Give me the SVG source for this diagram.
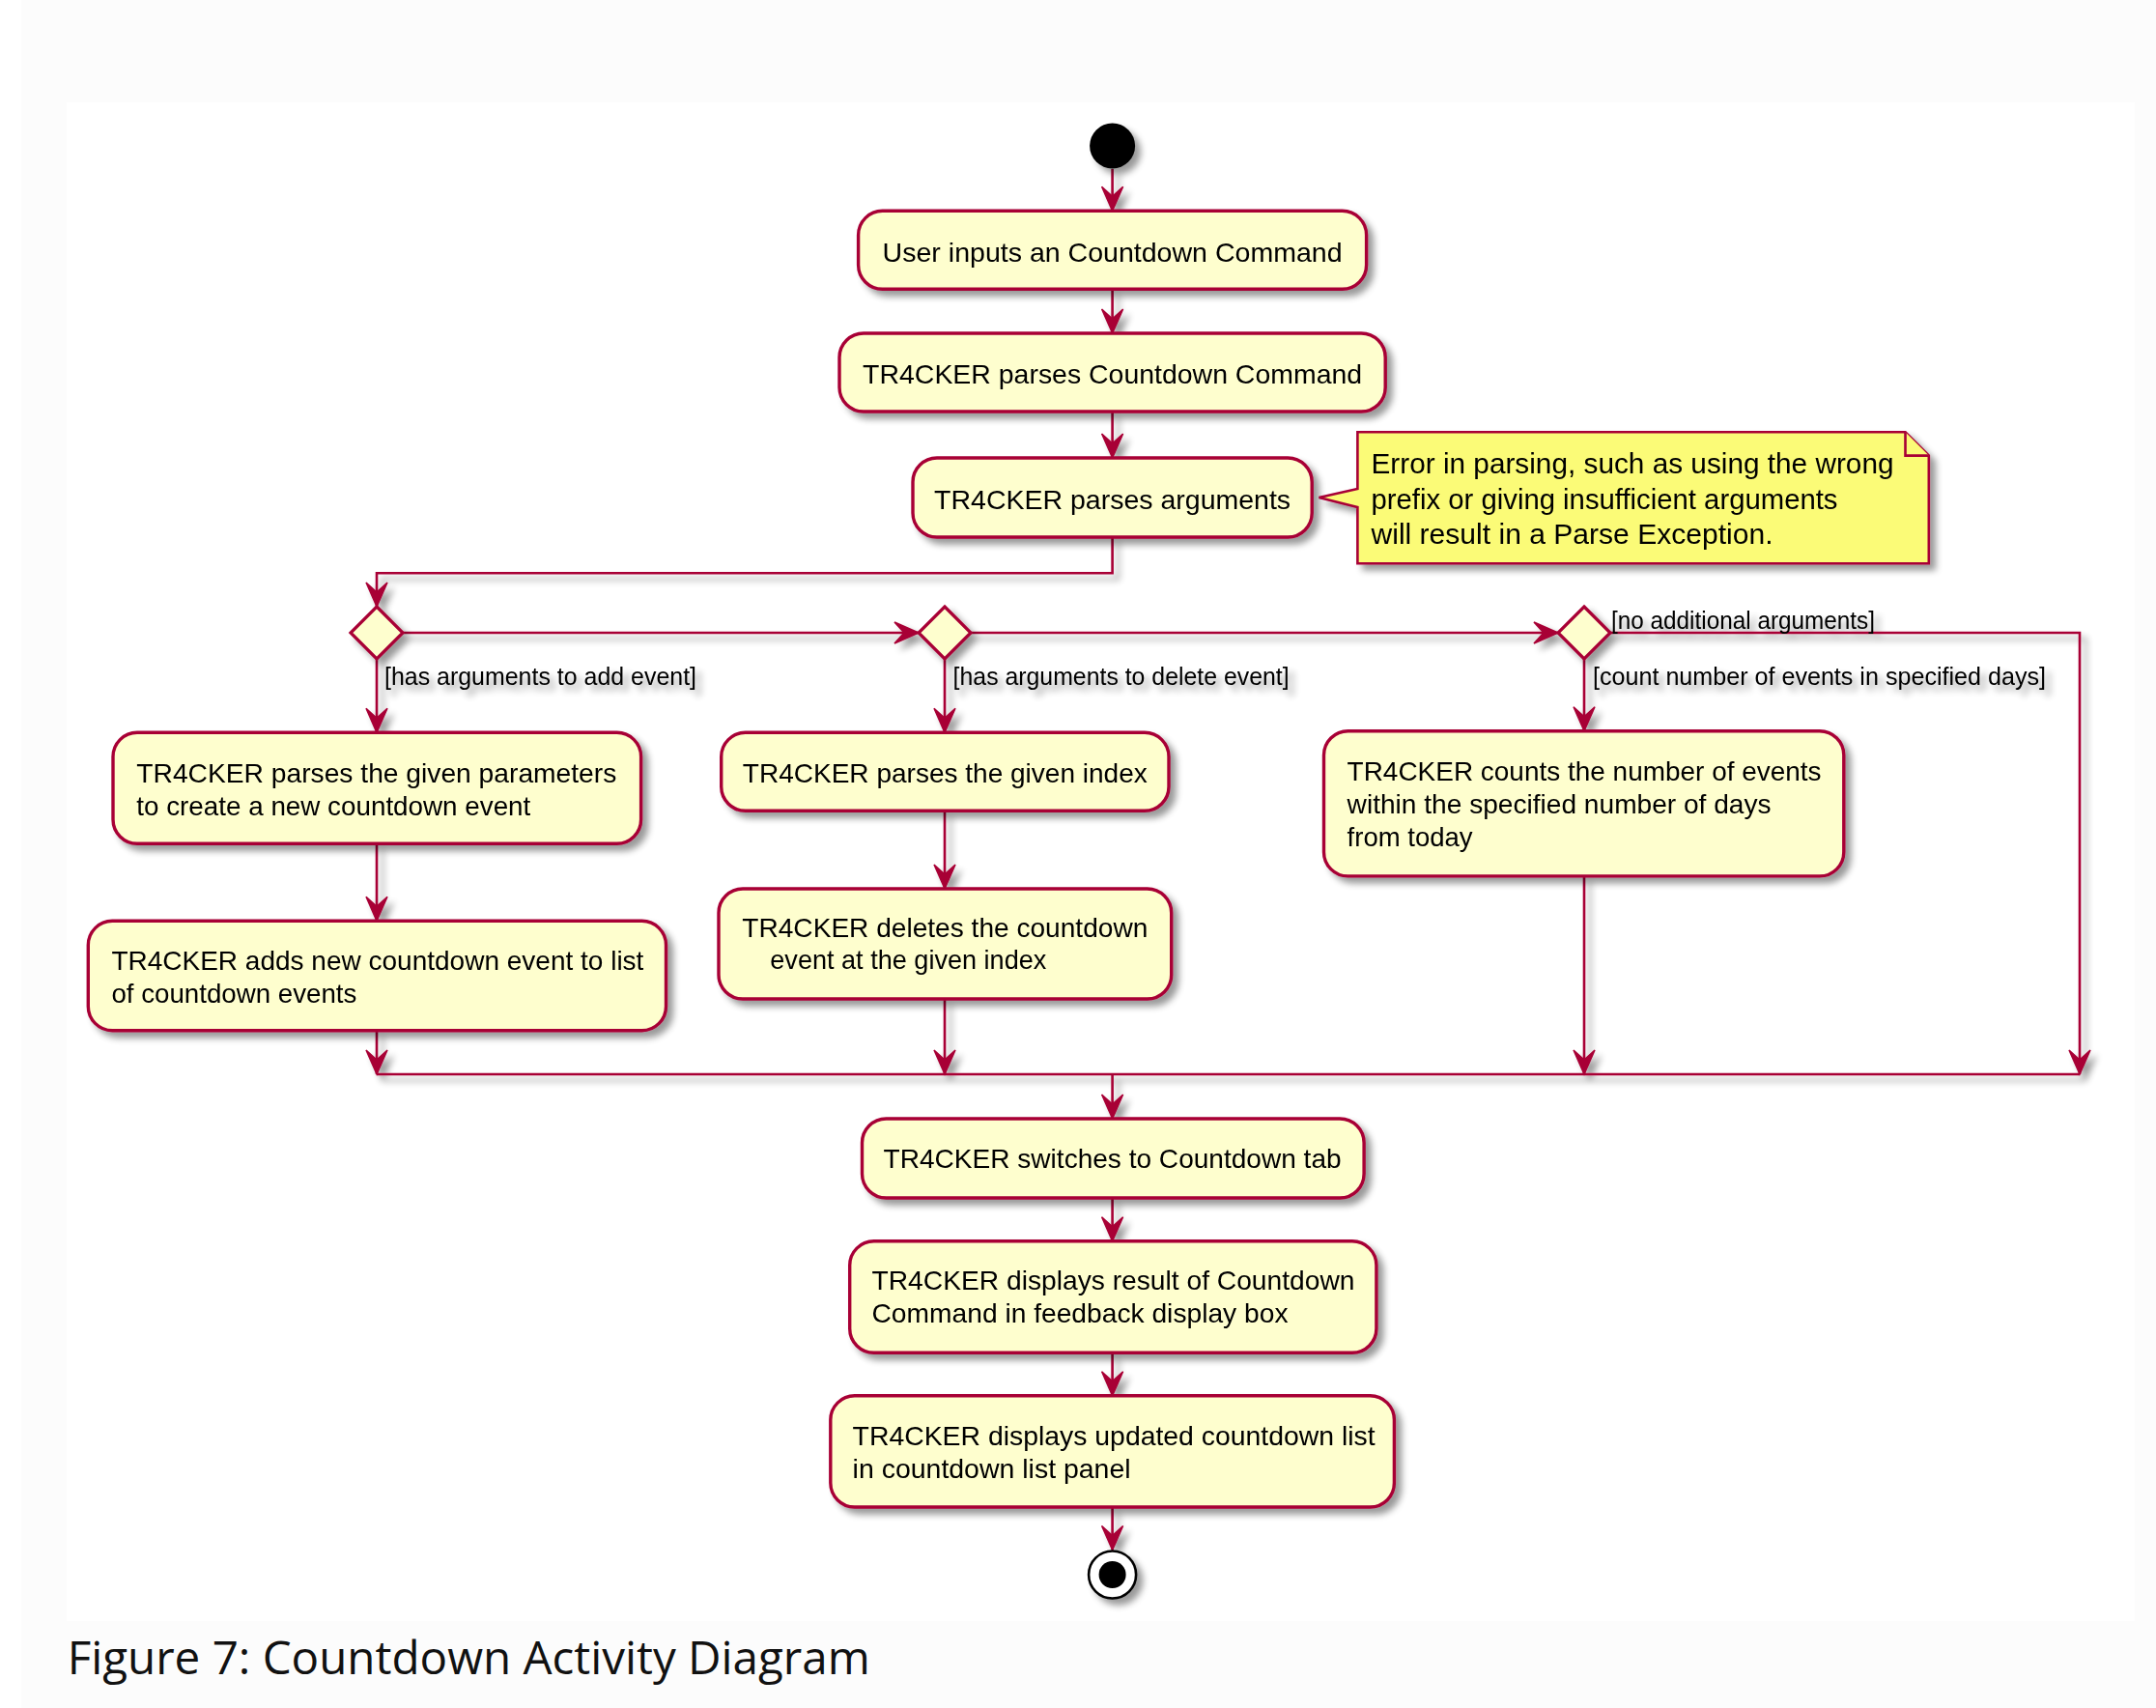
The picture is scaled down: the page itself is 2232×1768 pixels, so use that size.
<svg xmlns="http://www.w3.org/2000/svg" width="2232" height="1768" viewBox="0 0 2232 1768">
<style>
.box{fill:#FEFECE;stroke:#A80036;stroke-width:3.4}
.dia{fill:#FEFECE;stroke:#A80036;stroke-width:3.2}
.note{fill:#FBFB77;stroke:#A80036;stroke-width:2.6}
.ln{fill:none;stroke:#A80036;stroke-width:2.6}
.t{font-family:"Liberation Sans",Arial,sans-serif;font-size:28.5px;fill:#000}
.tn{font-family:"Liberation Sans",Arial,sans-serif;font-size:30px;fill:#000}
.lb{font-family:"Liberation Sans",Arial,sans-serif;font-size:25px;fill:#000}
.cap{font-family:"Open Sans","Noto Sans","Liberation Sans",sans-serif;font-size:47px;fill:#111}
</style>
<defs>
<filter id="sh" filterUnits="userSpaceOnUse" x="0" y="0" width="2232" height="1768">
<feGaussianBlur in="SourceAlpha" stdDeviation="3.5"/>
<feOffset dx="6" dy="6" result="o"/>
<feComponentTransfer><feFuncA type="linear" slope="0.4"/></feComponentTransfer>
<feMerge><feMergeNode/><feMergeNode in="SourceGraphic"/></feMerge>
</filter>
<marker id="ah" markerUnits="userSpaceOnUse" orient="auto" overflow="visible" markerWidth="1" markerHeight="1" refX="0" refY="0">
<path d="M0,0 L-25,-11 L-15,0 L-25,11 Z" fill="#A80036" stroke="#A80036" stroke-width="1.5" stroke-linejoin="miter"/>
</marker>
</defs>

<rect x="0" y="0" width="2232" height="1768" fill="#ffffff"/>
<rect x="22" y="0" width="2210" height="1768" fill="#fcfcfc"/>
<rect x="69" y="106" width="2141" height="1572" fill="#ffffff"/>

<g id="connectors" filter="url(#sh)">
<path class="ln" d="M1151.6,175 V218.3" marker-end="url(#ah)"/>
<path class="ln" d="M1151.6,299.3 V345" marker-end="url(#ah)"/>
<path class="ln" d="M1151.6,426 V474" marker-end="url(#ah)"/>
<path class="ln" d="M1151.6,556 V593.3 H390 V628" marker-end="url(#ah)"/>
<path class="ln" d="M417,655 H951" marker-end="url(#ah)"/>
<path class="ln" d="M1005,655 H1613" marker-end="url(#ah)"/>
<path class="ln" d="M1667,655 H2153 V1112" marker-end="url(#ah)"/>
<path class="ln" d="M390,682 V758.3" marker-end="url(#ah)"/>
<path class="ln" d="M390,873.3 V953.3" marker-end="url(#ah)"/>
<path class="ln" d="M390,1066.7 V1112" marker-end="url(#ah)"/>
<path class="ln" d="M978,682 V758.3" marker-end="url(#ah)"/>
<path class="ln" d="M978,839.3 V920" marker-end="url(#ah)"/>
<path class="ln" d="M978,1034 V1112" marker-end="url(#ah)"/>
<path class="ln" d="M1640,682 V756.7" marker-end="url(#ah)"/>
<path class="ln" d="M1640,907 V1112" marker-end="url(#ah)"/>
<path class="ln" d="M390,1112 H2153"/>
<path class="ln" d="M1151.6,1112 V1158" marker-end="url(#ah)"/>
<path class="ln" d="M1151.6,1240 V1284.8" marker-end="url(#ah)"/>
<path class="ln" d="M1151.6,1400.3 V1444.8" marker-end="url(#ah)"/>
<path class="ln" d="M1151.6,1560 V1604.5" marker-end="url(#ah)"/>
<text class="lb" x="398" y="709" textLength="323" lengthAdjust="spacingAndGlyphs">[has arguments to add event]</text>
<text class="lb" x="986.6" y="708.5" textLength="348" lengthAdjust="spacingAndGlyphs">[has arguments to delete event]</text>
<text class="lb" x="1649" y="709" textLength="469" lengthAdjust="spacingAndGlyphs">[count number of events in specified days]</text>
<text class="lb" x="1668" y="650.5" textLength="273" lengthAdjust="spacingAndGlyphs">[no additional arguments]</text>
</g>

<g id="start" filter="url(#sh)">
<circle cx="1151.6" cy="151" r="23.5" fill="#000"/>
</g>

<g id="n1" filter="url(#sh)">
<rect class="box" x="888.6" y="218.3" width="526" height="81" rx="25" ry="25"/>
<text class="t" x="1151.6" y="271" text-anchor="middle" textLength="476" lengthAdjust="spacingAndGlyphs">User inputs an Countdown Command</text>
</g>

<g id="n2" filter="url(#sh)">
<rect class="box" x="869" y="345" width="565.2" height="81" rx="25" ry="25"/>
<text class="t" x="1151.6" y="396.5" text-anchor="middle" textLength="517" lengthAdjust="spacingAndGlyphs">TR4CKER parses Countdown Command</text>
</g>

<g id="n3" filter="url(#sh)">
<rect class="box" x="945" y="474" width="413.2" height="82" rx="25" ry="25"/>
<text class="t" x="1151.6" y="526.7" text-anchor="middle" textLength="369" lengthAdjust="spacingAndGlyphs">TR4CKER parses arguments</text>
</g>

<g id="note" filter="url(#sh)">
<path class="note" d="M1405.4,447.3 L1972.5,447.3 L1996.8,471.6 L1996.8,583.3 L1405.4,583.3 L1405.4,525 L1365.5,515 L1405.4,506 Z"/>
<path class="note" d="M1972.5,447.3 L1972.5,471.6 L1996.8,471.6"/>
<text class="tn" x="1419.5" y="490" textLength="541" lengthAdjust="spacingAndGlyphs">Error in parsing, such as using the wrong</text>
<text class="tn" x="1419.5" y="526.7" textLength="483" lengthAdjust="spacingAndGlyphs">prefix or giving insufficient arguments</text>
<text class="tn" x="1419.5" y="563.3" textLength="416" lengthAdjust="spacingAndGlyphs">will result in a Parse Exception.</text>
</g>

<g id="d1" filter="url(#sh)">
<polygon class="dia" points="390,628 417,655 390,682 363,655"/>
</g>
<g id="d2" filter="url(#sh)">
<polygon class="dia" points="978,628 1005,655 978,682 951,655"/>
</g>
<g id="d3" filter="url(#sh)">
<polygon class="dia" points="1640,628 1667,655 1640,682 1613,655"/>
</g>

<g id="n4" filter="url(#sh)">
<rect class="box" x="117" y="758.3" width="546.6" height="115" rx="25" ry="25"/>
<text class="t" x="141.3" y="810" textLength="497" lengthAdjust="spacingAndGlyphs">TR4CKER parses the given parameters</text>
<text class="t" x="141.3" y="844" textLength="408" lengthAdjust="spacingAndGlyphs">to create a new countdown event</text>
</g>

<g id="n5" filter="url(#sh)">
<rect class="box" x="91.3" y="953.3" width="598.2" height="113.4" rx="25" ry="25"/>
<text class="t" x="115.4" y="1004" textLength="551" lengthAdjust="spacingAndGlyphs">TR4CKER adds new countdown event to list</text>
<text class="t" x="115.4" y="1038.3" textLength="254" lengthAdjust="spacingAndGlyphs">of countdown events</text>
</g>

<g id="n6" filter="url(#sh)">
<rect class="box" x="746.7" y="758.3" width="463.3" height="81" rx="25" ry="25"/>
<text class="t" x="978.3" y="810" text-anchor="middle" textLength="419" lengthAdjust="spacingAndGlyphs">TR4CKER parses the given index</text>
</g>

<g id="n7" filter="url(#sh)">
<rect class="box" x="744" y="920" width="468.7" height="114" rx="25" ry="25"/>
<text class="t" x="768.3" y="970" textLength="420" lengthAdjust="spacingAndGlyphs">TR4CKER deletes the countdown</text>
<text class="t" x="797.3" y="1003.3" textLength="286" lengthAdjust="spacingAndGlyphs">event at the given index</text>
</g>

<g id="n8" filter="url(#sh)">
<rect class="box" x="1370.5" y="756.7" width="538.3" height="150.2" rx="25" ry="25"/>
<text class="t" x="1394.6" y="808.4" textLength="491" lengthAdjust="spacingAndGlyphs">TR4CKER counts the number of events</text>
<text class="t" x="1394.6" y="842.2" textLength="439" lengthAdjust="spacingAndGlyphs">within the specified number of days</text>
<text class="t" x="1394.6" y="876" textLength="130" lengthAdjust="spacingAndGlyphs">from today</text>
</g>

<g id="n9" filter="url(#sh)">
<rect class="box" x="892.5" y="1158" width="519.6" height="82" rx="25" ry="25"/>
<text class="t" x="1151.6" y="1209" text-anchor="middle" textLength="474" lengthAdjust="spacingAndGlyphs">TR4CKER switches to Countdown tab</text>
</g>

<g id="n10" filter="url(#sh)">
<rect class="box" x="879.7" y="1284.8" width="545.2" height="115.5" rx="25" ry="25"/>
<text class="t" x="902.5" y="1335.3" textLength="500" lengthAdjust="spacingAndGlyphs">TR4CKER displays result of Countdown</text>
<text class="t" x="902.5" y="1368.8" textLength="431" lengthAdjust="spacingAndGlyphs">Command in feedback display box</text>
</g>

<g id="n11" filter="url(#sh)">
<rect class="box" x="859.8" y="1444.8" width="583.6" height="115.2" rx="25" ry="25"/>
<text class="t" x="882.6" y="1496" textLength="541" lengthAdjust="spacingAndGlyphs">TR4CKER displays updated countdown list</text>
<text class="t" x="882.6" y="1530.4" textLength="288" lengthAdjust="spacingAndGlyphs">in countdown list panel</text>
</g>

<g id="end" filter="url(#sh)">
<circle cx="1151.6" cy="1630" r="24.5" fill="#ffffff" stroke="#000" stroke-width="2.6"/>
<circle cx="1151.6" cy="1630" r="14" fill="#000"/>
</g>

<g id="caption">
<text class="cap" x="69.7" y="1732.6" textLength="831" lengthAdjust="spacingAndGlyphs">Figure 7: Countdown Activity Diagram</text>
</g>
</svg>
